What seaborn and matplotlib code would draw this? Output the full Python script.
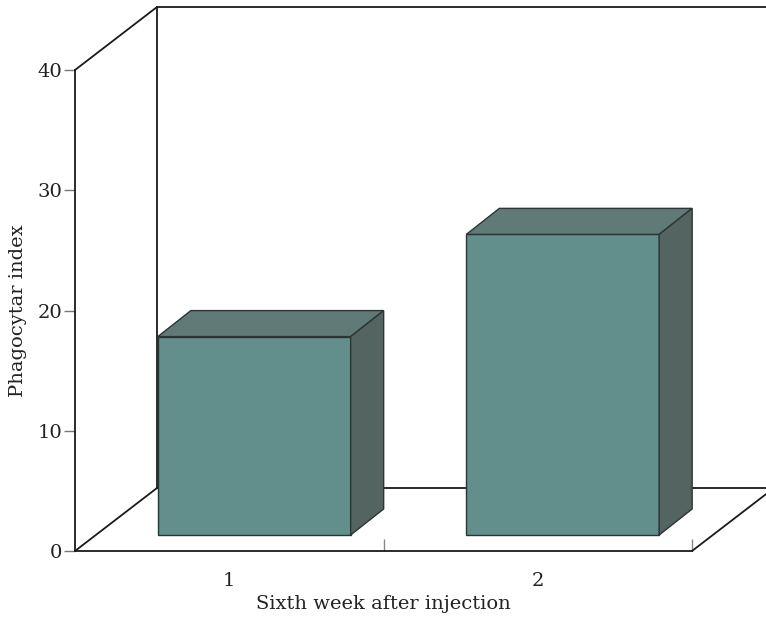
import seaborn as sns
import matplotlib.pyplot as plt
from matplotlib.patches import Polygon

# data
weeks = ["1", "2"]
phagocytar_index = [16.5, 25.0]

front_col = "#628e8b"
top_col = "#5f7a77"
side_col = "#546461"
edge_col = "#2e3433"

sns.set_style("white")
plt.rcParams["font.family"] = ["DejaVu Serif"]

fig = plt.figure(figsize=(7.66, 6.17), dpi=100)
ax = fig.add_axes([75 / 766, 66 / 617, 617 / 766, 481 / 617])

sns.barplot(x=weeks, y=phagocytar_index, width=0.625, color=front_col,
            saturation=1, edgecolor=edge_col, linewidth=1.0, ax=ax, zorder=5)

ax.set_xlim(-0.5, 1.5)
ax.set_ylim(0, 40)

# 3d frame offsets (data units)
DX, DY = 82 / 308.5, 63 / 12.025
lw = 1.3
frame = dict(color="#1a1a1a", lw=lw, clip_on=False, zorder=1)
x0, x1 = -0.5, 1.5
ax.plot([x0, x0 + DX], [0, DY], **frame)
ax.plot([x0, x0 + DX], [40, 40 + DY], **frame)
ax.plot([x0 + DX, x0 + DX], [DY, 40 + DY], **frame)
ax.plot([x0 + DX, x1 + DX], [40 + DY, 40 + DY], **frame)
ax.plot([x0 + DX, x1 + DX], [DY, DY], **frame)
ax.plot([x1, x1 + DX], [0, DY], **frame)

# bars: shift into depth and add top/side faces
bx, by = 25 / 308.5, 16 / 12.025
ddx, ddy = 33 / 308.5, 26 / 12.025
for p in ax.patches:
    x, w, h = p.get_x(), p.get_width(), p.get_height()
    p.set_x(x + bx)
    p.set_y(by)
    l, r, b, t = x + bx, x + bx + w, by, by + h
    top = Polygon([(l, t), (r, t), (r + ddx, t + ddy), (l + ddx, t + ddy)],
                  closed=True, fc=top_col, ec=edge_col, lw=1.0, zorder=5, clip_on=False)
    side = Polygon([(r, b), (r + ddx, b + ddy), (r + ddx, t + ddy), (r, t)],
                   closed=True, fc=side_col, ec=edge_col, lw=1.0, zorder=5, clip_on=False)
    ax.add_patch(top)
    ax.add_patch(side)

for s in ["top", "right"]:
    ax.spines[s].set_visible(False)
ax.spines["left"].set_linewidth(lw)
ax.spines["bottom"].set_linewidth(lw)
ax.spines["left"].set_color("#1a1a1a")
ax.spines["bottom"].set_color("#1a1a1a")

ax.set_yticks([0, 10, 20, 30, 40])
ax.tick_params(axis="y", direction="out", length=8, width=1, color="#777777",
               labelsize=14, pad=1, left=True, labelcolor="#222222")
ax.tick_params(axis="x", which="major", length=0, labelsize=14, pad=15,
               labelcolor="#222222")
ax.set_xticks([0.5, 1.5], minor=True)
ax.tick_params(axis="x", which="minor", direction="in", length=9, width=1,
               color="#888888", bottom=True)

ax.set_xlabel("Sixth week after injection", fontsize=14, labelpad=4, color="#222222")
ax.set_ylabel("Phagocytar index", fontsize=14, labelpad=8, color="#222222")

fig.savefig("out.png", dpi=100)
